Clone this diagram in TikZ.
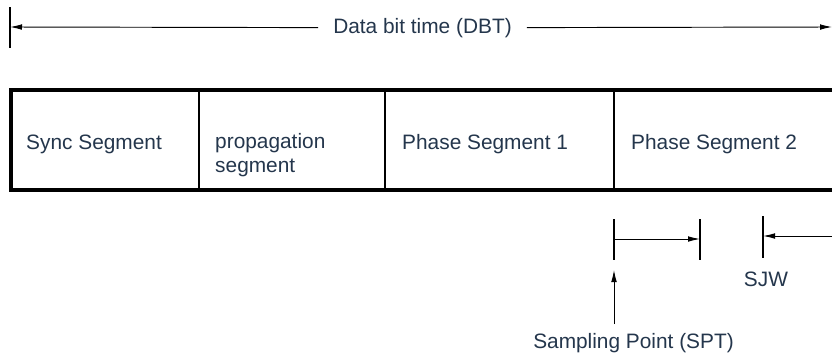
\documentclass[tikz,border=0pt]{standalone}
\usepackage{fontspec}
\setmainfont{Liberation Sans}
\usepackage{xcolor}
\usepackage{tikz}
\usetikzlibrary{arrows.meta,positioning}
\definecolor{labelnavy}{RGB}{36,54,76}

\begin{document}
\begin{tikzpicture}[x=0.03cm, y=-0.03cm,
  lbl/.style={text=labelnavy, font=\fontsize{17.8pt}{20.5pt}\selectfont, inner sep=0pt},
  dim/.style={line width=0.8pt, -{Latex[length=3.6mm,width=1.7mm]}},
  tick/.style={line width=1pt},
  border/.style={line width=3.4pt}]

\useasboundingbox (0,0) rectangle (832,355);

% Data bit time
\node[lbl, anchor=base, inner xsep=0.45cm] (dbt) at (422.5,33) {Data bit time (DBT)};
\coordinate (dbtL) at (10,27);
\coordinate (dbtR) at (832,27);
\draw[tick] (10,7) -- (10,48);
\draw[dim] (dbt.west) -- (dbtL);
\draw[dim] (dbt.east) -- (dbtR);

% Segment table
\draw[border] (834,90) -- (11,90) -- (11,190) -- (834,190);
\draw[tick] (199,90) -- (199,190);
\draw[tick] (385,90) -- (385,190);
\draw[tick] (614,90) -- (614,190);

\node[lbl, anchor=base west] (sync) at (26,149) {Sync Segment};
\node[lbl, anchor=base west, align=left] (prop) at (215,172.5) {propagation\\segment};
\node[lbl, anchor=base west] (phase1) at (402,149) {Phase Segment 1};
\node[lbl, anchor=base west] (phase2) at (631,149) {Phase Segment 2};

% Phase Segment 2 lengthening / shortening
\coordinate (lenA) at (615,239);
\coordinate (lenB) at (700,239);
\draw[tick] (614,219) -- (614,260);
\draw[tick] (700,219) -- (700,260);
\draw[dim] (lenA) -- (lenB);

\coordinate (shrA) at (832,236);
\coordinate (shrB) at (763,236);
\draw[tick] (763,216) -- (763,258);
\draw[dim] (shrA) -- (shrB);
\node[lbl, anchor=base] (sjw) at (766,286) {SJW};

% Sampling point
\node[lbl, anchor=base] (spt) at (633.5,348) {Sampling Point (SPT)};
\coordinate (sptFoot) at (614,324);
\coordinate (sptTip) at (614,270);
\draw[dim] (sptFoot) -- (sptTip);

\end{tikzpicture}
\end{document}
